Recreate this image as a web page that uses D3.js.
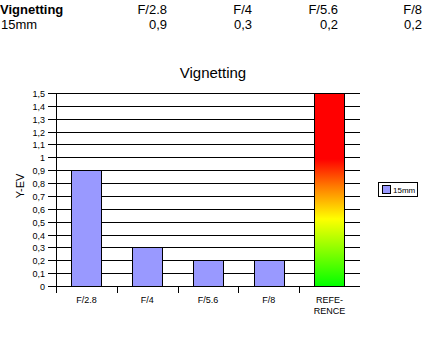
<!DOCTYPE html>
<html>
<head>
<meta charset="utf-8">
<script src="https://cdn.jsdelivr.net/npm/d3@7/dist/d3.min.js"></script>
<style>
  html, body { margin: 0; padding: 0; background: #fff; }
  svg { display: block; font-family: "Liberation Sans", Arial, sans-serif; }
</style>
</head>
<body>
<svg id="chart" width="427" height="341"></svg>
<script>
// Aperture settings and measured vignetting (EV) for the 15mm lens
const apertures = ["F/2.8", "F/4", "F/5.6", "F/8"];
const vignetting15mm = [0.9, 0.3, 0.2, 0.2];
const categories = ["F/2.8", "F/4", "F/5.6", "F/8", "REFERENCE"];
const referenceValue = 1.5;
const yTicks = [0, 0.1, 0.2, 0.3, 0.4, 0.5, 0.6, 0.7, 0.8, 0.9, 1, 1.1, 1.2, 1.3, 1.4, 1.5];
const seriesName = "15mm";

(function () {
const svg = d3.select("#chart");
const fmt = v => String(v).replace(".", ",");

// Header table
const colRight = [167, 252, 338, 422];
svg.append("text").attr("x", 0).attr("y", 14).attr("font-size", 13).attr("font-weight", "bold").text("Vignetting");
svg.append("text").attr("x", 1).attr("y", 29).attr("font-size", 13).text(seriesName);
apertures.forEach((a, i) => {
  svg.append("text").attr("x", colRight[i]).attr("y", 14).attr("font-size", 13).attr("text-anchor", "end").text(a);
  svg.append("text").attr("x", colRight[i]).attr("y", 29).attr("font-size", 13).attr("text-anchor", "end").text(fmt(vignetting15mm[i]));
});

// Chart geometry
const plotLeft = 56, plotRight = 360, plotTop = 93, plotBottom = 286;
const x = d3.scaleBand().domain(categories).range([plotLeft, plotRight]).paddingInner(0.5).paddingOuter(0.25);
const y = d3.scaleLinear().domain([0, 1.5]).range([plotBottom, plotTop]);

// Title
svg.append("text").attr("x", 213).attr("y", 78).attr("font-size", 15).attr("text-anchor", "middle").text("Vignetting");

// Gridlines with left tick stubs
svg.append("g").selectAll("line").data(yTicks).join("line")
  .attr("x1", plotLeft - 8).attr("x2", plotRight)
  .attr("y1", d => Math.round(y(d)) + 0.5).attr("y2", d => Math.round(y(d)) + 0.5)
  .attr("stroke", "#000").attr("stroke-width", 1);

// Y tick labels
svg.append("g").selectAll("text").data(yTicks).join("text")
  .attr("x", plotLeft - 11).attr("y", d => Math.round(y(d)) + 3.5)
  .attr("font-size", 9).attr("text-anchor", "end").text(d => fmt(d));

// Y axis title
svg.append("text").attr("transform", "translate(24,186) rotate(-90)")
  .attr("font-size", 11).attr("text-anchor", "middle").text("Y-EV");

// Gradient for the reference bar
const grad = svg.append("defs").append("linearGradient").attr("id", "refGrad")
  .attr("x1", 0).attr("y1", 0).attr("x2", 0).attr("y2", 1);
[[0, "#ff0000"], [0.34, "#ff0000"], [0.48, "#ff7a00"], [0.65, "#ffff00"], [1, "#00ff00"]]
  .forEach(([o, c]) => grad.append("stop").attr("offset", o).attr("stop-color", c));

// Data bars
const barData = apertures.map((a, i) => ({ cat: a, value: vignetting15mm[i] }));
svg.append("g").selectAll("rect").data(barData).join("rect")
  .attr("x", d => Math.round(x(d.cat)) + 0.5)
  .attr("y", d => Math.round(y(d.value)) + 0.5)
  .attr("width", Math.round(x.bandwidth()))
  .attr("height", d => Math.round(y(0)) - Math.round(y(d.value)))
  .attr("fill", "#9999ff").attr("stroke", "#000");

// Reference bar
svg.append("rect")
  .attr("x", Math.round(x("REFERENCE")) + 0.5)
  .attr("y", Math.round(y(referenceValue)) + 0.5)
  .attr("width", Math.round(x.bandwidth()))
  .attr("height", Math.round(y(0)) - Math.round(y(referenceValue)))
  .attr("fill", "url(#refGrad)").attr("stroke", "#000");

// Axis lines
svg.append("line").attr("x1", plotLeft + 0.5).attr("x2", plotLeft + 0.5).attr("y1", plotTop).attr("y2", plotBottom + 7).attr("stroke", "#000");
svg.append("line").attr("x1", plotLeft).attr("x2", plotRight).attr("y1", plotBottom + 0.5).attr("y2", plotBottom + 0.5).attr("stroke", "#000");

// X tick marks at band boundaries
const bounds = categories.map((c, i) => x(c) - x.step() * x.paddingInner() / 2).slice(1);
svg.append("g").selectAll("line").data(bounds).join("line")
  .attr("x1", d => Math.round(d) + 0.5).attr("x2", d => Math.round(d) + 0.5)
  .attr("y1", plotBottom).attr("y2", plotBottom + 7).attr("stroke", "#000");

// X labels
const xLabels = { "REFERENCE": ["REFE-", "RENCE"] };
categories.forEach(c => {
  const cx = x(c) + x.bandwidth() / 2;
  const lines = xLabels[c] || [c];
  const t = svg.append("text").attr("x", cx).attr("y", 303)
    .attr("font-size", 9).attr("text-anchor", "middle");
  lines.forEach((l, i) => t.append("tspan").attr("x", cx).attr("dy", i ? 11 : 0).text(l));
});

// Legend
const lg = svg.append("g");
lg.append("rect").attr("x", 378.5).attr("y", 182.5).attr("width", 39).attr("height", 14).attr("fill", "#fff").attr("stroke", "#000");
lg.append("rect").attr("x", 382.5).attr("y", 185.5).attr("width", 8).attr("height", 8).attr("fill", "#9999ff").attr("stroke", "#000");
lg.append("text").attr("x", 393).attr("y", 193).attr("font-size", 8).text(seriesName);
})();
</script>
</body>
</html>
